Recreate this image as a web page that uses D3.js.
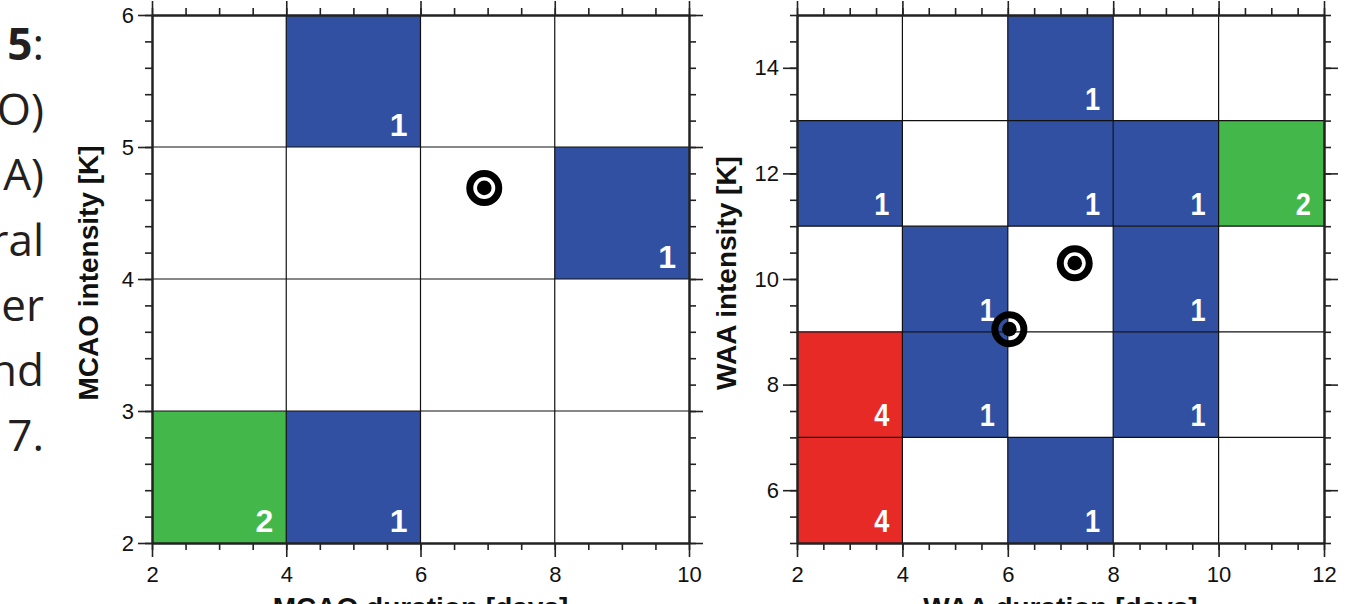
<!DOCTYPE html>
<html><head><meta charset="utf-8">
<script src="https://cdn.jsdelivr.net/npm/d3@7"></script>
<style>
html,body{margin:0;padding:0;background:#fff;overflow:hidden}
svg{display:block}
</style></head>
<body>
<script>
// ---- data ----
const captionFragments = ["5:", "O)", "A)", "ral", "er", "nd", "7."];

// MCAO panel: lower-left corner of each occupied bin (duration [days], intensity [K]) and count
const mcaoDurStart = [4, 8, 2, 4];
const mcaoIntStart = [5, 4, 2, 2];
const mcaoCount    = [1, 1, 2, 1];
const mcaoBinW = 2, mcaoBinH = 1;
const mcaoMarkerDur = [6.95];
const mcaoMarkerInt = [4.69];

// WAA panel
const waaDurStart = [6, 2, 6, 8, 10, 4, 8, 2, 4, 8, 2, 6];
const waaIntStart = [13, 11, 11, 11, 11, 9, 9, 7, 7, 7, 5, 5];
const waaCount    = [1, 1, 1, 1, 2, 1, 1, 4, 1, 1, 4, 1];
const waaBinW = 2, waaBinH = 2;
const waaMarkerDur = [6.03, 7.27];
const waaMarkerInt = [9.05, 10.3];

const mcaoXTicks = [2, 4, 6, 8, 10];
const mcaoYTicks = [2, 3, 4, 5, 6];
const waaXTicks = [2, 4, 6, 8, 10, 12];
const waaYTicks = [6, 8, 10, 12, 14];

const countColors = {1: "#3150a1", 2: "#44b74a", 4: "#e82a26"};

// ---- drawing ----
const W = 1360, H = 604;
const svg = d3.select("body").append("svg").attr("width", W).attr("height", H);

// caption fragments (cut off at left edge, as in the reference)
const cap = svg.append("g").attr("font-family", "'Open Sans','Noto Sans',sans-serif")
  .attr("font-size", 44).attr("fill", "#231f20").attr("text-anchor", "end");
captionFragments.forEach((t, i) => {
  const y = 60 + i * 65.2;
  const txt = cap.append("text").attr("x", 44).attr("y", y);
  if (t === "5:") {
    txt.append("tspan").attr("font-weight", "bold").text("5");
    txt.append("tspan").text(":");
  } else txt.text(t);
});

function range(a, b, s) { const r = []; for (let v = a; v <= b + 1e-9; v += s) r.push(+v.toFixed(4)); return r; }

function panel(opts) {
  const x = d3.scaleLinear().domain(opts.xDom).range(opts.xRange);
  const y = d3.scaleLinear().domain(opts.yDom).range(opts.yRange);
  const g = svg.append("g");

  // cells
  g.selectAll("rect.cell").data(opts.count).join("rect")
    .attr("x", (d, i) => x(opts.xs[i]))
    .attr("y", (d, i) => y(opts.ys[i] + opts.bh))
    .attr("width", (d, i) => x(opts.xs[i] + opts.bw) - x(opts.xs[i]))
    .attr("height", (d, i) => y(opts.ys[i]) - y(opts.ys[i] + opts.bh))
    .attr("fill", d => countColors[d]);

  // grid
  const gx = range(opts.xDom[0] + opts.bw, opts.xDom[1] - opts.bw, opts.bw);
  const gy = range(opts.yDom[0] + opts.bh, opts.yDom[1] - opts.bh, opts.bh);
  g.selectAll("line.gx").data(gx).join("line")
    .attr("x1", d => x(d)).attr("x2", d => x(d))
    .attr("y1", y(opts.yDom[0])).attr("y2", y(opts.yDom[1]))
    .attr("stroke", "#111").attr("stroke-width", 1.2);
  g.selectAll("line.gy").data(gy).join("line")
    .attr("y1", d => y(d)).attr("y2", d => y(d))
    .attr("x1", x(opts.xDom[0])).attr("x2", x(opts.xDom[1]))
    .attr("stroke", "#111").attr("stroke-width", 1.2);

  // cell labels
  g.selectAll("text.lab").data(opts.count).join("text")
    .attr("transform", (d, i) => `translate(${x(opts.xs[i] + opts.bw) - 13},${y(opts.ys[i]) - 11}) scale(${opts.labScale},1)`)
    .attr("text-anchor", "end")
    .attr("font-family", "'Liberation Sans',Arial,sans-serif")
    .attr("font-weight", "bold").attr("font-size", 32).attr("fill", "#fff")
    .text(d => d);

  // axes
  const minorX = range(opts.xDom[0], opts.xDom[1], opts.xMinor);
  const minorY = range(opts.yDom[0], opts.yDom[1], opts.yMinor);
  const font = "'Liberation Sans',Arial,sans-serif";
  const fmt = d3.format("d");
  function styleAxis(sel, lab) {
    sel.selectAll("path.domain").attr("stroke", "#222").attr("stroke-width", 2);
    sel.selectAll(".tick line").attr("stroke", "#222").attr("stroke-width", 1.6);
    sel.selectAll(".tick text").attr("font-family", font).attr("font-size", 22).attr("fill", "#111");
    if (!lab) sel.selectAll(".tick text").remove();
  }
  const y0 = y(opts.yDom[0]), y1 = y(opts.yDom[1]), x0 = x(opts.xDom[0]), x1 = x(opts.xDom[1]);
  // minor
  g.append("g").attr("transform", `translate(0,${y0})`).call(d3.axisBottom(x).tickValues(minorX).tickSize(7).tickSizeOuter(0).tickFormat("")).call(s => styleAxis(s, false));
  g.append("g").attr("transform", `translate(0,${y1})`).call(d3.axisTop(x).tickValues(minorX).tickSize(7).tickSizeOuter(0).tickFormat("")).call(s => styleAxis(s, false));
  g.append("g").attr("transform", `translate(${x0},0)`).call(d3.axisLeft(y).tickValues(minorY).tickSize(7).tickSizeOuter(0).tickFormat("")).call(s => styleAxis(s, false));
  g.append("g").attr("transform", `translate(${x1},0)`).call(d3.axisRight(y).tickValues(minorY).tickSize(7).tickSizeOuter(0).tickFormat("")).call(s => styleAxis(s, false));
  // major
  g.append("g").attr("transform", `translate(0,${y0})`).call(d3.axisBottom(x).tickValues(opts.xTicks).tickSize(14).tickSizeOuter(0).tickPadding(9).tickFormat(fmt)).call(s => styleAxis(s, true));
  g.append("g").attr("transform", `translate(0,${y1})`).call(d3.axisTop(x).tickValues(opts.xTicks).tickSize(14).tickSizeOuter(0)).call(s => styleAxis(s, false));
  g.append("g").attr("transform", `translate(${x0},0)`).call(d3.axisLeft(y).tickValues(opts.yTicks).tickSize(14).tickSizeOuter(0).tickPadding(4).tickFormat(fmt)).call(s => styleAxis(s, true));
  g.append("g").attr("transform", `translate(${x1},0)`).call(d3.axisRight(y).tickValues(opts.yTicks).tickSize(14).tickSizeOuter(0)).call(s => styleAxis(s, false));

  // axis titles
  g.append("text").attr("transform", `translate(${opts.yTitleX},${(y0 + y1) / 2 - 6}) rotate(-90)`)
    .attr("text-anchor", "middle").attr("font-family", font).attr("font-weight", "bold")
    .attr("font-size", 28).attr("fill", "#111").text(opts.yTitle);
  g.append("text").attr("x", (x0 + x1) / 2).attr("y", 617)
    .attr("text-anchor", "middle").attr("font-family", font).attr("font-weight", "bold")
    .attr("font-size", 28).attr("fill", "#111").text(opts.xTitle);

  // markers
  const mk = g.selectAll("g.mk").data(opts.mx).join("g")
    .attr("transform", (d, i) => `translate(${x(d)},${y(opts.my[i])})`);
  mk.append("circle").attr("r", 14.5).attr("fill", "none").attr("stroke", "#000").attr("stroke-width", 7);
  mk.append("circle").attr("r", 7.3).attr("fill", "#000");
}

panel({
  xDom: [2, 10], yDom: [2, 6], xRange: [152, 689], yRange: [543, 15],
  xs: mcaoDurStart, ys: mcaoIntStart, count: mcaoCount, bw: mcaoBinW, bh: mcaoBinH,
  xTicks: mcaoXTicks, yTicks: mcaoYTicks, xMinor: 0.5, yMinor: 0.2,
  mx: mcaoMarkerDur, my: mcaoMarkerInt, labScale: 1,
  yTitle: "MCAO intensity [K]", xTitle: "MCAO duration [days]", yTitleX: 98
});
panel({
  xDom: [2, 12], yDom: [5, 15], xRange: [797, 1324], yRange: [543, 15],
  xs: waaDurStart, ys: waaIntStart, count: waaCount, bw: waaBinW, bh: waaBinH,
  xTicks: waaXTicks, yTicks: waaYTicks, xMinor: 0.5, yMinor: 0.5,
  mx: waaMarkerDur, my: waaMarkerInt, labScale: 0.85,
  yTitle: "WAA intensity [K]", xTitle: "WAA duration [days]", yTitleX: 736
});
</script>
</body></html>
